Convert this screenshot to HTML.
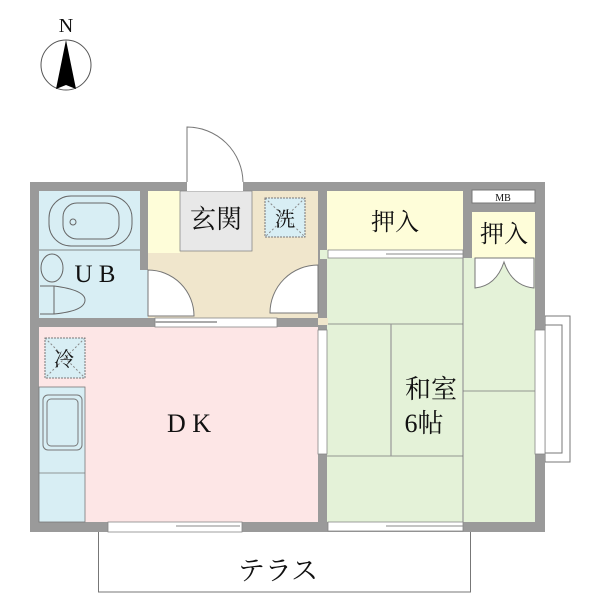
<!DOCTYPE html>
<html><head><meta charset="utf-8"><style>
html,body{margin:0;padding:0;background:#fff}
svg{display:block}
text{font-family:"Liberation Serif","Noto Serif CJK SC",serif;fill:#111}
</style></head><body>
<svg width="600" height="600" viewBox="0 0 600 600" xmlns="http://www.w3.org/2000/svg">
<!-- compass -->
<text x="66" y="32" font-size="20" text-anchor="middle">N</text>
<circle cx="66" cy="65" r="25" fill="none" stroke="#555" stroke-width="1"/>
<path d="M66,40 L76,89 L66,85 L56,89 Z" fill="#000"/>

<!-- terrace -->
<rect x="98.5" y="530" width="372" height="62" fill="#fff" stroke="#777"/>
<text x="278" y="580" font-size="27" text-anchor="middle" font-family="Liberation Sans,'Noto Sans CJK JP',sans-serif">テラス</text>
<!-- balcony right -->
<rect x="545" y="316" width="25" height="146" fill="#fff" stroke="#777"/>
<rect x="545" y="325" width="17" height="128" fill="#fff" stroke="#777"/>

<!-- outer wall -->
<rect x="30" y="182" width="515" height="350" fill="#9a9a9a"/>

<!-- UB -->
<rect x="39" y="191" width="101" height="127" fill="#d8eef4"/>
<rect x="140" y="270" width="8" height="48" fill="#d8eef4"/>
<line x1="39" y1="250" x2="140" y2="250" stroke="#666" stroke-width="0.8"/>
<rect x="49" y="196" width="83" height="50" rx="22" fill="none" stroke="#666"/>
<rect x="63" y="203" width="56" height="36" rx="14" fill="none" stroke="#666"/>
<circle cx="73" cy="222" r="3" fill="none" stroke="#666"/>
<ellipse cx="52" cy="268" rx="11" ry="14" fill="none" stroke="#666"/>
<path d="M40,286 h14 v28 h-14" fill="none" stroke="#666"/>
<path d="M54,286 Q85,290 85,300 Q85,311 54,314" fill="none" stroke="#666"/>
<text x="95" y="282" font-size="25" text-anchor="middle">U B</text>

<!-- hall -->
<rect x="148" y="191" width="170" height="127" fill="#f0e6cc"/>
<rect x="148" y="191" width="32" height="62" fill="#fefdd9"/>
<rect x="180" y="191" width="72" height="60" fill="#e8e8e8" stroke="#888" stroke-width="0.8"/>
<rect x="265" y="198" width="40" height="39" fill="#d8eef4" stroke="#777" stroke-dasharray="2,1"/>
<line x1="265" y1="198" x2="305" y2="237" stroke="#888" stroke-dasharray="2,2"/>
<line x1="305" y1="198" x2="265" y2="237" stroke="#888" stroke-dasharray="2,2"/>
<text x="285" y="226" font-size="20" text-anchor="middle">洗</text>
<text x="216" y="228" font-size="26" text-anchor="middle">玄関</text>
<!-- entrance door -->
<rect x="187" y="182" width="56" height="9" fill="#fff"/>
<path d="M187,182 V127 A56,56 0 0 1 243,182" fill="#fff" stroke="#777"/>
<!-- hall doors -->
<path d="M148,270 A46,46 0 0 1 194,316 H148 Z" fill="#fff" stroke="#777"/>
<path d="M318,265 A48,48 0 0 0 270,313 H318 Z" fill="#fff" stroke="#777"/>

<!-- DK -->
<rect x="39" y="327" width="279" height="195" fill="#fde6e6"/>
<rect x="155" y="318" width="122" height="9" fill="#fff" stroke="#888" stroke-width="0.8"/>
<line x1="155" y1="322" x2="217" y2="322" stroke="#aaa" stroke-width="2"/>
<rect x="45" y="338" width="40" height="40" fill="#d8eef4" stroke="#777" stroke-dasharray="2,1"/>
<line x1="45" y1="338" x2="85" y2="378" stroke="#888" stroke-dasharray="2,2"/>
<line x1="85" y1="338" x2="45" y2="378" stroke="#888" stroke-dasharray="2,2"/>
<text x="64" y="366" font-size="20" text-anchor="middle">冷</text>
<rect x="39" y="387" width="46" height="135" fill="#d8eef4" stroke="#777" stroke-width="0.8"/>
<line x1="39" y1="473" x2="85" y2="473" stroke="#777" stroke-width="0.8"/>
<rect x="43" y="395" width="39" height="55" rx="5" fill="none" stroke="#777"/>
<rect x="47" y="399" width="31" height="47" rx="4" fill="none" stroke="#777"/>
<text x="189" y="432" font-size="26" text-anchor="middle">D K</text>
<rect x="108" y="522" width="134" height="10" fill="#fff" stroke="#888" stroke-width="0.8"/>
<line x1="176" y1="526" x2="240" y2="526" stroke="#888"/>

<!-- closets -->
<rect x="327" y="191" width="136" height="59" fill="#fefdd9"/>
<text x="395" y="230" font-size="24" text-anchor="middle">押入</text>
<rect x="472" y="190" width="63" height="13" fill="#fff" stroke="#777"/>
<text x="503" y="201" font-size="10" text-anchor="middle">MB</text>
<rect x="472" y="212" width="63" height="46" fill="#fefdd9"/>
<text x="504" y="242" font-size="24" text-anchor="middle">押入</text>

<!-- washitsu -->
<rect x="327" y="258" width="208" height="264" fill="#e4f2d8"/>
<rect x="320" y="250" width="143" height="9" fill="#e4f2d8"/>
<rect x="328" y="250" width="135" height="8" fill="#fff" stroke="#888" stroke-width="0.8"/>
<line x1="386" y1="254" x2="463" y2="254" stroke="#888"/>
<line x1="463" y1="258" x2="463" y2="522" stroke="#999" stroke-width="1.2"/>
<line x1="327" y1="324" x2="463" y2="324" stroke="#777" stroke-width="0.8"/>
<line x1="327" y1="456" x2="463" y2="456" stroke="#777" stroke-width="0.8"/>
<line x1="391" y1="324" x2="391" y2="456" stroke="#999" stroke-width="1.2"/>
<line x1="463" y1="391" x2="545" y2="391" stroke="#777" stroke-width="0.8"/>
<path d="M475,258 V288 Q496,286 504,262 Q512,286 534,288 V258 Z" fill="#fff" stroke="#777"/>
<text x="431" y="398" font-size="26" text-anchor="middle">和室</text>
<text x="424" y="432" font-size="26" text-anchor="middle">6帖</text>
<!-- windows -->
<rect x="318" y="318" width="10" height="7" fill="#f0e6cc"/>
<rect x="318" y="330" width="9" height="124" fill="#fff" stroke="#888" stroke-width="0.8"/>
<rect x="535" y="330" width="10" height="124" fill="#fff" stroke="#888" stroke-width="0.8"/>
<rect x="328" y="522" width="135" height="9" fill="#fff" stroke="#888" stroke-width="0.8"/>
<line x1="386" y1="526" x2="463" y2="526" stroke="#888"/>
</svg>
</body></html>
